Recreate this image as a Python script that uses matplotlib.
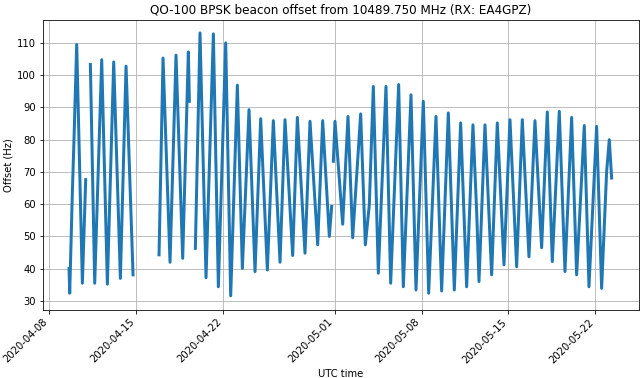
#!/usr/bin/env python3
"""QO-100 beacon offset, redrawn from daily turning points read off the original plot."""

import math

import matplotlib
matplotlib.use("Agg")
import matplotlib.dates as mdates
import matplotlib.pyplot as plt
import pandas as pd

GAP = math.nan
START = pd.Timestamp("2020-04-08")

# days since 2020-04-08 00:00 UTC (NaN = no data)
DAYS = [
    1.587, 1.641, 1.856, 1.990, 2.205, 2.662, 2.930, GAP,
    3.306, 3.656, 4.220, 4.676, 5.187, 5.724, 6.181, 6.745, GAP,
    8.840, 9.162, 9.726, 10.209, 10.747, 11.203, 11.284, GAP,
    11.767, 12.143, 12.627, 13.218, 13.621, 14.212, 14.615, 15.152, 15.555,
    16.092, 16.576, 17.032, 17.569, 18.052, 18.590, 18.993, 19.611, 19.987,
    20.604, 21.007, 21.626, 22.028, 22.565, 22.754, GAP,
    22.887, 23.022, 23.640, 24.069, 24.446, 25.090, 25.466, 25.788, 26.110,
    26.513, 27.131, 27.508, 28.152, 28.528, 29.146, 29.549, 30.139, 30.570,
    31.160, 31.617, 32.154, 32.637, 33.148, 33.632, 34.140, 34.438, 34.626,
    35.109, 35.646, 36.102, 36.640, 37.123, 37.661, 38.117, 38.654, 39.138,
    39.675, 40.131, 40.534, 41.098, 41.555, 42.093, 42.496, 43.113, 43.489,
    44.107, 44.510, 44.913, 45.127, 45.316,
]

# offset in Hz
OFFSET = [
    40.1, 32.4, 63.9, 80.5, 109.5, 35.5, 67.6, GAP,
    103.3, 35.5, 104.8, 35.2, 104.1, 37.0, 102.8, 38.1, GAP,
    44.3, 105.3, 42.0, 106.2, 43.2, 107.2, 91.9, GAP,
    46.3, 113.1, 37.2, 112.8, 34.4, 110.0, 31.6, 96.9, 40.1,
    89.3, 39.1, 86.5, 39.6, 85.9, 42.0, 86.2, 44.1, 86.9,
    44.8, 85.7, 47.4, 85.9, 50.0, 59.3, GAP,
    73.3, 85.7, 53.8, 87.2, 49.6, 88.0, 47.4, 59.8, 96.5,
    38.6, 96.5, 35.5, 97.1, 34.4, 93.9, 33.4, 91.9, 32.4,
    87.2, 33.1, 88.3, 33.4, 85.2, 34.4, 84.6, 57.7, 36.0,
    84.6, 38.1, 85.2, 41.2, 86.2, 40.6, 86.2, 43.7, 85.9,
    46.5, 88.6, 42.2, 88.8, 39.1, 86.9, 38.1, 84.4, 34.4,
    84.1, 33.9, 70.1, 80.0, 68.1,
]

TICK_DATES = ["2020-04-08", "2020-04-15", "2020-04-22", "2020-05-01",
              "2020-05-08", "2020-05-15", "2020-05-22"]


def main():
    times = START + pd.to_timedelta(DAYS, unit="D")

    fig = plt.figure(figsize=(644 / 72, 378 / 72), dpi=72)
    ax = fig.add_axes([0.0668, 0.1799, 0.9254, 0.7672])
    ax.plot(times, OFFSET, color="#1f77b4", linewidth=3.0)

    ax.set_xlim(START + pd.Timedelta(days=-0.51), START + pd.Timedelta(days=47.52))
    ax.set_ylim(27.2, 117.1)
    ax.set_xticks(pd.to_datetime(TICK_DATES))
    ax.xaxis.set_major_formatter(mdates.DateFormatter("%Y-%m-%d"))
    plt.setp(ax.get_xticklabels(), rotation=45, ha="right")

    ax.grid(True, color="#b0b0b0", linewidth=0.8)
    ax.set_title("QO-100 BPSK beacon offset from 10489.750 MHz (RX: EA4GPZ)")
    ax.set_xlabel("UTC time")
    ax.set_ylabel("Offset (Hz)")

    fig.savefig("out.png", dpi=72)


if __name__ == "__main__":
    main()
